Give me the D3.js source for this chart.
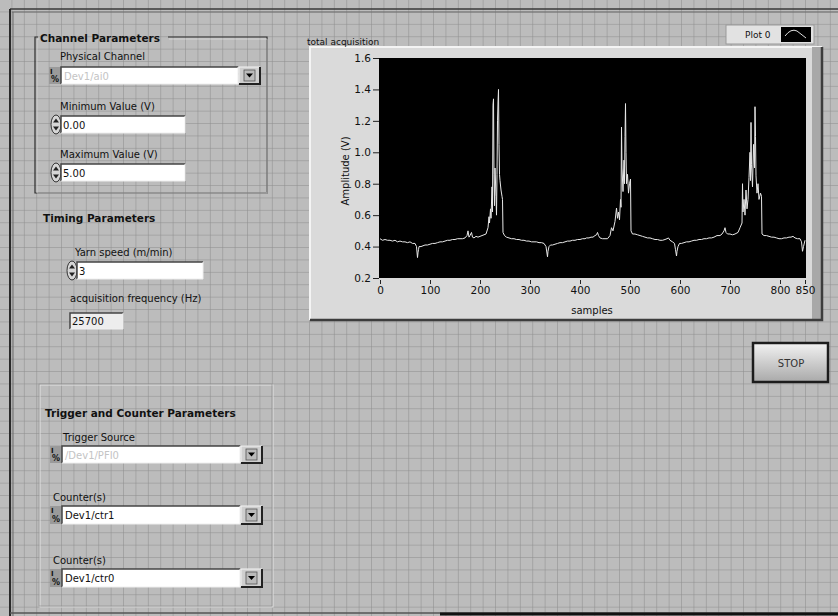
<!DOCTYPE html>
<html>
<head>
<meta charset="utf-8">
<script src="https://cdn.jsdelivr.net/npm/d3@7"></script>
<style>
body{margin:0;background:#bcbcbc;}
svg{display:block;}
text{font-family:"DejaVu Sans",sans-serif;}
</style>
</head>
<body>
<svg id="panel" width="838" height="616"></svg>
<script>
// waveform (sample index, amplitude in V)
var sampleIdx=[0,5,10,15,20,25,30,35,40,45,50,55,60,65,70,73,75,76,77,78,82,86,90,95,100,105,110,115,120,125,130,135,140,145,150,155,160,165,170,174,176,178,180,183,185,188,192,196,200,204,208,
212,216,218,219,221,222,224,225,226,227,228,229,230,232,233,234,235,236,237,238,239,240,242,244,245,246,249,
253,258,263,268,273,278,283,288,293,298,303,308,313,318,323,328,332,335,336,338,341,345,350,355,360,365,370,375,380,385,390,395,400,405,410,413,418,422,426,430,433,435,437,440,445,450,455,
460,463,466,470,473,475,477,479,481,482,483,484,486,488,489,490,491,492,493,495,497,499,501,502,505,
510,515,520,525,530,535,540,545,550,555,560,565,570,574,577,580,585,589,591,593,594,596,599,603,608,613,618,623,628,633,638,643,648,653,658,663,668,674,680,684,688,690,692,695,700,705,710,
716,720,724,725,726,728,730,732,734,736,738,740,741,742,743,745,747,749,750,751,752,754,756,758,761,763,764,
768,773,778,783,788,793,798,803,808,813,818,822,826,830,835,840,843,845,847,850];
var amplitude=[0.45,0.44,0.445,0.44,0.44,0.435,0.44,0.43,0.435,0.43,0.43,0.425,0.43,0.42,0.42,0.40,0.33,0.36,0.38,0.40,0.40,0.405,0.41,0.41,0.415,0.42,0.42,0.425,0.43,0.43,0.435,0.44,0.44,0.445,0.445,0.45,0.45,0.45,0.455,0.47,0.50,0.46,0.47,0.49,0.46,0.455,0.465,0.46,0.465,0.47,0.475,
0.48,0.52,0.59,0.55,0.64,0.58,0.78,0.62,1.30,1.34,0.86,0.66,0.90,0.72,0.60,0.86,1.20,1.32,1.40,1.05,0.86,0.82,0.76,0.72,0.70,0.49,0.47,
0.46,0.455,0.45,0.45,0.445,0.445,0.44,0.44,0.435,0.435,0.43,0.43,0.43,0.425,0.425,0.42,0.40,0.335,0.37,0.40,0.41,0.41,0.415,0.42,0.425,0.425,0.43,0.435,0.435,0.44,0.44,0.445,0.445,0.45,0.45,0.455,0.455,0.46,0.46,0.47,0.475,0.49,0.47,0.455,0.45,0.45,0.45,
0.47,0.52,0.50,0.56,0.645,0.58,0.62,0.57,0.70,0.65,1.16,0.90,0.75,0.95,0.80,1.10,1.31,1.00,0.80,0.86,0.74,0.80,0.83,0.50,0.48,
0.48,0.475,0.47,0.465,0.46,0.455,0.455,0.45,0.445,0.445,0.44,0.44,0.445,0.45,0.455,0.44,0.43,0.42,0.38,0.34,0.37,0.40,0.42,0.42,0.425,0.43,0.43,0.435,0.44,0.44,0.445,0.445,0.45,0.45,0.455,0.455,0.46,0.47,0.47,0.48,0.50,0.52,0.49,0.48,0.48,0.475,0.48,
0.49,0.52,0.55,0.80,0.62,0.70,0.60,0.76,0.64,0.70,0.84,1.00,0.82,1.19,0.92,0.78,1.05,0.90,1.29,1.10,0.85,0.74,0.80,0.70,0.74,0.72,0.48,
0.47,0.47,0.465,0.46,0.46,0.455,0.45,0.45,0.455,0.455,0.46,0.46,0.465,0.455,0.45,0.45,0.43,0.37,0.40,0.44];

var xTicks=[0,100,200,300,400,500,600,700,800,850];
var yTicks=[0.2,0.4,0.6,0.8,1.0,1.2,1.4,1.6];

var graphTitle="total acquisition";
var legendName="Plot 0";
var xTitle="samples";
var yTitle="Amplitude (V)";

var svg=d3.select("#panel");

// background grid of the front panel
var defs=svg.append("defs");
defs.append("pattern")
    .attr("id","grid")
    .attr("width",12.4).attr("height",12.4)
    .attr("patternUnits","userSpaceOnUse")
    .append("path")
    .attr("d","M12.4 0V12.4M0 12.4H12.4")
    .attr("stroke","#8c8c8c").attr("stroke-width",1).attr("fill","none");

var btnGrad=defs.append("linearGradient").attr("id","btn").attr("x1",0).attr("y1",0).attr("x2",0).attr("y2",1);
btnGrad.append("stop").attr("offset","0%").attr("stop-color","#f2f2f2");
btnGrad.append("stop").attr("offset","100%").attr("stop-color","#a9a9a9");

svg.append("rect").attr("width",838).attr("height",616).attr("fill","#bcbcbc");
svg.append("rect").attr("width",838).attr("height",616).attr("fill","url(#grid)");

// window frame
svg.append("line").attr("x1",10).attr("y1",9).attr("x2",838).attr("y2",9).attr("stroke","#3a3a3a").attr("stroke-width",1.5);
svg.append("line").attr("x1",12).attr("y1",12).attr("x2",838).attr("y2",12).attr("stroke","#6a6a6a").attr("stroke-width",1);
svg.append("line").attr("x1",10).attr("y1",9).attr("x2",10).attr("y2",616).attr("stroke","#2a2a2a").attr("stroke-width",2);
svg.append("line").attr("x1",13).attr("y1",12).attr("x2",13).attr("y2",616).attr("stroke","#6a6a6a").attr("stroke-width",1);
svg.append("line").attr("x1",10).attr("y1",613).attr("x2",838).attr("y2",613).attr("stroke","#555").attr("stroke-width",1.5);
svg.append("line").attr("x1",440).attr("y1",614).attr("x2",838).attr("y2",614).attr("stroke","#111").attr("stroke-width",3);

var label=function(x,y,txt,bold,size){
    return svg.append("text")
        .attr("x",x).attr("y",y)
        .attr("font-size",size||10)
        .attr("font-weight",bold?"bold":"normal")
        .attr("fill","#111")
        .text(txt);
};

var sunken=function(x,y,w,h,fill){
    svg.append("rect").attr("x",x).attr("y",y).attr("width",w).attr("height",h).attr("fill",fill);
    svg.append("path").attr("d","M"+x+" "+(y+h)+"V"+y+"H"+(x+w))
        .attr("stroke","#444").attr("stroke-width",1.5).attr("fill","none");
    svg.append("path").attr("d","M"+x+" "+(y+h)+"H"+(x+w)+"V"+y)
        .attr("stroke","#eee").attr("stroke-width",1).attr("fill","none");
};

var ring=function(x,y,w,h,txt,disabled){
    // DAQmx name icon
    svg.append("rect").attr("x",x).attr("y",y).attr("width",12).attr("height",h).attr("fill","#9a9a9a");
    svg.append("text").attr("x",x+1).attr("y",y+7).attr("font-size",7).attr("font-weight","bold").attr("fill","#111").text("I");
    svg.append("text").attr("x",x+2).attr("y",y+h-2).attr("font-size",8).attr("font-weight","bold").attr("fill","#111").text("%");
    sunken(x+12,y,w-34,h,"#fff");
    svg.append("text").attr("x",x+15).attr("y",y+h/2+4).attr("font-size",10)
        .attr("fill",disabled?"#c4c4c4":"#111").text(txt);
    // arrow button
    var bx=x+w-21;
    svg.append("rect").attr("x",bx).attr("y",y).attr("width",21).attr("height",h).attr("fill","#cfcfcf");
    svg.append("path").attr("d","M"+bx+" "+(y+h)+"V"+y+"H"+(bx+21)).attr("stroke","#f4f4f4").attr("fill","none");
    svg.append("path").attr("d","M"+(bx+21)+" "+y+"V"+(y+h)+"H"+bx).attr("stroke","#222").attr("stroke-width",2).attr("fill","none");
    svg.append("rect").attr("x",bx+5).attr("y",y+3).attr("width",11).attr("height",h-6).attr("fill","#bbb").attr("stroke","#555").attr("stroke-width",0.8);
    svg.append("path").attr("d","M"+(bx+7)+" "+(y+h/2-2)+"h7l-3.5 4z").attr("fill","#000");
};

var numeric=function(x,y,w,h,txt,spin){
    if(spin){
        svg.append("ellipse").attr("cx",x-5).attr("cy",y+h/2).attr("rx",5).attr("ry",h/2+1)
            .attr("fill","#d6d6d6").attr("stroke","#333").attr("stroke-width",1);
        svg.append("path").attr("d","M"+(x-8)+" "+(y+h/2-2)+"l3 -4l3 4z").attr("fill","#222");
        svg.append("path").attr("d","M"+(x-8)+" "+(y+h/2+2)+"l3 4l3 -4z").attr("fill","#222");
    }
    sunken(x,y,w,h,spin?"#fff":"#ededed");
    svg.append("text").attr("x",x+2).attr("y",y+h/2+4).attr("font-size",10).attr("fill","#111").text(txt);
};

// Channel Parameters cluster
svg.append("path").attr("d","M38 37H35V193H267V37H168")
    .attr("stroke","#2e2e2e").attr("stroke-width",1.2).attr("fill","none");
svg.append("path").attr("d","M38 38H36V192H266V38H168")
    .attr("stroke","#e6e6e6").attr("stroke-width",0.6).attr("fill","none").attr("transform","translate(1,1)");
label(40,42,"Channel Parameters",true,10.5);
label(60,60,"Physical Channel");
ring(49,67,211,17,"Dev1/ai0",true);
label(60,110,"Minimum Value (V)");
numeric(61,116,124,17,"0.00",true);
label(60,158,"Maximum Value (V)");
numeric(61,164,124,17,"5.00",true);

// Timing
label(43,222,"Timing Parameters",true,10.5);
label(75,256,"Yarn speed (m/min)");
numeric(77,262,126,17,"3",true);
label(70,302,"acquisition frequency (Hz)");
numeric(70,313,53,16,"25700",false);

// Trigger and Counter cluster
svg.append("rect").attr("x",40).attr("y",385).attr("width",233).attr("height",222)
    .attr("fill","none").attr("stroke","#e2e2e2").attr("stroke-width",1);
svg.append("rect").attr("x",39).attr("y",384).attr("width",233).attr("height",222)
    .attr("fill","none").attr("stroke","#8a8a8a").attr("stroke-width",0.6);
label(45,417,"Trigger and Counter Parameters",true,10.5);
label(63,441,"Trigger Source");
ring(50,446,212,17,"/Dev1/PFI0",true);
label(53,501,"Counter(s)");
ring(50,506,212,18,"Dev1/ctr1",false);
label(53,564,"Counter(s)");
ring(50,569,212,18,"Dev1/ctr0",false);

// STOP button
svg.append("rect").attr("x",753).attr("y",343).attr("width",75).attr("height",39)
    .attr("fill","url(#btn)").attr("stroke","#1c1c1c").attr("stroke-width",2.5);
svg.append("text").attr("x",791).attr("y",367).attr("text-anchor","middle")
    .attr("font-size",10).attr("fill","#333").text("STOP");

// graph frame
svg.append("rect").attr("x",310).attr("y",47).attr("width",512).attr("height",273).attr("fill","#dadada");
svg.append("path").attr("d","M310 320V47H822").attr("stroke","#f4f4f4").attr("stroke-width",2).attr("fill","none");
svg.append("rect").attr("x",812).attr("y",47).attr("width",10).attr("height",273).attr("fill","#a8a8a8");
svg.append("path").attr("d","M822 47V320H310").attr("stroke","#3c3c3c").attr("stroke-width",2.5).attr("fill","none");
label(307,45,graphTitle,false,9);

// legend
svg.append("rect").attr("x",726).attr("y",25).attr("width",88).attr("height",19)
    .attr("fill","#e2e2e2").attr("stroke","#999");
label(745,38,legendName,false,9);
svg.append("rect").attr("x",781).attr("y",27).attr("width",30).attr("height",15).attr("fill","#000");
svg.append("path").attr("d","M785 36Q791 28 797 31L806 38").attr("stroke","#ddd").attr("fill","none");

var xScale=d3.scaleLinear().domain([0,850]).range([380,805]);
var yScale=d3.scaleLinear().domain([0.2,1.6]).range([278,58]);

svg.append("rect")
    .attr("x",xScale(0)-1).attr("y",yScale(1.6))
    .attr("width",xScale(850)-xScale(0)+2).attr("height",yScale(0.2)-yScale(1.6))
    .attr("fill","#000");

var yAxis=svg.append("g")
    .attr("transform","translate("+(xScale(0)-1)+",0)")
    .call(d3.axisLeft(yScale).tickValues(yTicks).tickFormat(d3.format(".1f")).tickSize(6).tickPadding(2));
var xAxis=svg.append("g")
    .attr("transform","translate(0,"+(yScale(0.2)+2)+")")
    .call(d3.axisBottom(xScale).tickValues(xTicks).tickFormat(d3.format("d")).tickSize(4).tickPadding(3));
[yAxis,xAxis].forEach(function(ax){
    ax.select(".domain").remove();
    ax.selectAll(".tick line").attr("stroke","#222");
    ax.selectAll(".tick text").attr("fill","#111").attr("font-size",10.5)
        .attr("font-family","DejaVu Sans, sans-serif");
});

svg.append("text").attr("x",592).attr("y",314).attr("text-anchor","middle")
    .attr("font-size",10).attr("fill","#111").text(xTitle);
svg.append("text").attr("transform","translate(349,171) rotate(-90)").attr("text-anchor","middle")
    .attr("font-size",10).attr("fill","#111").text(yTitle);

var pts=d3.zip(sampleIdx,amplitude);
var line=d3.line()
    .x(function(d){return xScale(d[0]);})
    .y(function(d){return yScale(d[1]);});
svg.append("path")
    .datum(pts)
    .attr("d",line)
    .attr("fill","none")
    .attr("stroke","#e8e8e8")
    .attr("stroke-width",1);
</script>
</body>
</html>
